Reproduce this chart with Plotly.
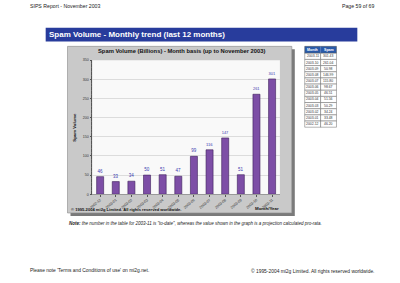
import plotly.graph_objects as go

months = ["2002-12", "2003-01", "2003-02", "2003-03", "2003-04", "2003-05",
          "2003-06", "2003-07", "2003-08", "2003-09", "2003-10", "2003-11"]
volumes = [46, 33, 34, 50, 51, 47, 99, 116, 147, 51, 261, 301]

table_months = ["2003-11", "2003-10", "2003-09", "2003-08", "2003-07", "2003-06",
                "2003-05", "2003-04", "2003-03", "2003-02", "2003-01", "2002-12"]
table_spam = ["301.43", "261.04", "50.98", "146.99", "115.80", "98.67",
              "46.51", "51.56", "50.29", "34.24", "33.48", "46.20"]

W, H = 400, 283
FONT = "Liberation Sans"

def px(x):
    return x / W

def py(y):
    return 1 - y / H

fig = go.Figure()

fig.add_trace(go.Bar(
    x=months, y=volumes, width=0.45,
    marker=dict(color="#7d4ea6", line=dict(color="#3d1f5a", width=0.6)),
    text=[str(v) for v in volumes], textposition="outside",
    textfont=dict(size=4.5, color="#3a3ab0", family=FONT),
    cliponaxis=False, showlegend=False,
))

shapes = [
    # banner
    dict(type="rect", xref="paper", yref="paper", x0=px(43), x1=px(357), y0=py(40), y1=py(26),
         fillcolor="#283c9c", line=dict(width=0), layer="below"),
    # panel shadow
    dict(type="rect", xref="paper", yref="paper", x0=px(68), x1=px(294), y0=py(217), y1=py(48),
         fillcolor="#7a7a7a", line=dict(width=0), layer="below"),
    # panel
    dict(type="rect", xref="paper", yref="paper", x0=px(65), x1=px(291), y0=py(214), y1=py(45),
         fillcolor="#c9c9c9", line=dict(color="#8a8a8a", width=0.6), layer="below"),
    # plot background
    dict(type="rect", xref="paper", yref="paper", x0=px(90), x1=px(279), y0=py(195), y1=py(59),
         fillcolor="#f9f9f9", line=dict(width=0), layer="below"),
]

ann = [
    dict(text="SIPS Report - November 2003", x=px(25), y=py(4.5), xanchor="left", yanchor="middle",
         font=dict(size=5.2, color="#222222")),
    dict(text="Page 59 of 69", x=px(376), y=py(4.5), xanchor="right", yanchor="middle",
         font=dict(size=5.2, color="#222222")),
    dict(text="<b>Spam Volume - Monthly trend (last 12 months)</b>", x=px(44), y=py(33), xanchor="left",
         yanchor="middle", font=dict(size=8, color="white")),
    dict(text="<b>Spam Volume (Billions) - Month basis (up to November 2003)</b>", x=px(180), y=py(50),
         xanchor="center", yanchor="middle", font=dict(size=5.8, color="#111111")),
    dict(text="<b>Spam Volume</b>", x=px(72), y=py(127), xanchor="center", yanchor="middle", textangle=-90,
         font=dict(size=4.3, color="#111111")),
    dict(text="<b>© 1995-2004 mi2g Limited. All rights reserved worldwide.</b>", x=px(66), y=py(210),
         xanchor="left", yanchor="middle", font=dict(size=4.1, color="#111111")),
    dict(text="<b>Month/Year</b>", x=px(266), y=py(209), xanchor="center", yanchor="middle",
         font=dict(size=4.4, color="#111111")),
    dict(text="<b><i>Note:</i></b><i> the number in the table for 2003-11 is \"to-date\", whereas the value shown in the graph is a projection calculated pro-rata.</i>",
         x=px(64), y=py(224.5), xanchor="left", yanchor="middle", font=dict(size=4.5, color="#222222")),
    dict(text="Please note 'Terms and Conditions of use' on mi2g.net.", x=px(25), y=py(272.5),
         xanchor="left", yanchor="middle", font=dict(size=4.9, color="#222222")),
    dict(text="© 1995-2004 mi2g Limited. All rights reserved worldwide.", x=px(376), y=py(272.5),
         xanchor="right", yanchor="middle", font=dict(size=4.9, color="#222222")),
]

# data table (drawn with shapes + text from the arrays)
TX0, TXM, TX1 = 304, 320, 336
TY0, HDR_H, ROW_H = 45, 7, 6.25
shapes.append(dict(type="rect", xref="paper", yref="paper", x0=px(TX0), x1=px(TX1),
                   y0=py(TY0 + HDR_H), y1=py(TY0), fillcolor="#2a5aa8",
                   line=dict(color="#555555", width=0.5)))
shapes.append(dict(type="line", xref="paper", yref="paper", x0=px(TXM), x1=px(TXM),
                   y0=py(TY0 + HDR_H), y1=py(TY0), line=dict(color="#8aa0d0", width=0.5)))
ann.append(dict(text="<b>Month</b>", x=px((TX0 + TXM) / 2), y=py(TY0 + HDR_H / 2), xanchor="center",
                yanchor="middle", font=dict(size=3.6, color="white")))
ann.append(dict(text="<b>Spam</b>", x=px((TXM + TX1) / 2), y=py(TY0 + HDR_H / 2), xanchor="center",
                yanchor="middle", font=dict(size=3.6, color="white")))
for i, (m, s) in enumerate(zip(table_months, table_spam)):
    top = TY0 + HDR_H + i * ROW_H
    for a, b in ((TX0, TXM), (TXM, TX1)):
        shapes.append(dict(type="rect", xref="paper", yref="paper", x0=px(a), x1=px(b),
                           y0=py(top + ROW_H), y1=py(top), fillcolor="white",
                           line=dict(color="#666666", width=0.5)))
    ann.append(dict(text=m, x=px((TX0 + TXM) / 2), y=py(top + ROW_H / 2), xanchor="center",
                    yanchor="middle", font=dict(size=3.4, color="#333333")))
    ann.append(dict(text=s, x=px(TX1 - 1.5), y=py(top + ROW_H / 2), xanchor="right",
                    yanchor="middle", font=dict(size=3.4, color="#333333")))

for a in ann:
    a.update(xref="paper", yref="paper", showarrow=False)

fig.update_layout(
    width=W, height=H, margin=dict(l=0, r=0, t=0, b=0),
    paper_bgcolor="white", plot_bgcolor="rgba(0,0,0,0)",
    font=dict(family=FONT),
    shapes=shapes, annotations=ann, bargap=0.55, uniformtext=dict(mode=False),
    xaxis=dict(type="category", domain=[px(90), px(279)], tickangle=-40, showgrid=False,
               tickfont=dict(size=3.6, color="#333333"), ticks="outside", ticklen=1.5,
               tickcolor="#555555", showline=True, linecolor="#999999", linewidth=0.6),
    yaxis=dict(domain=[py(195), py(59)], range=[0, 350], dtick=50, showgrid=True,
               gridcolor="#dcdcdc", gridwidth=0.6, tickfont=dict(size=3.6, color="#333333"),
               ticks="outside", ticklen=2, tickcolor="#555555", showline=True,
               linecolor="#555555", linewidth=0.6, zeroline=False,
               minor=dict(dtick=10, ticks="outside", ticklen=1, tickcolor="#666666")),
)

fig.write_html("out.html")
